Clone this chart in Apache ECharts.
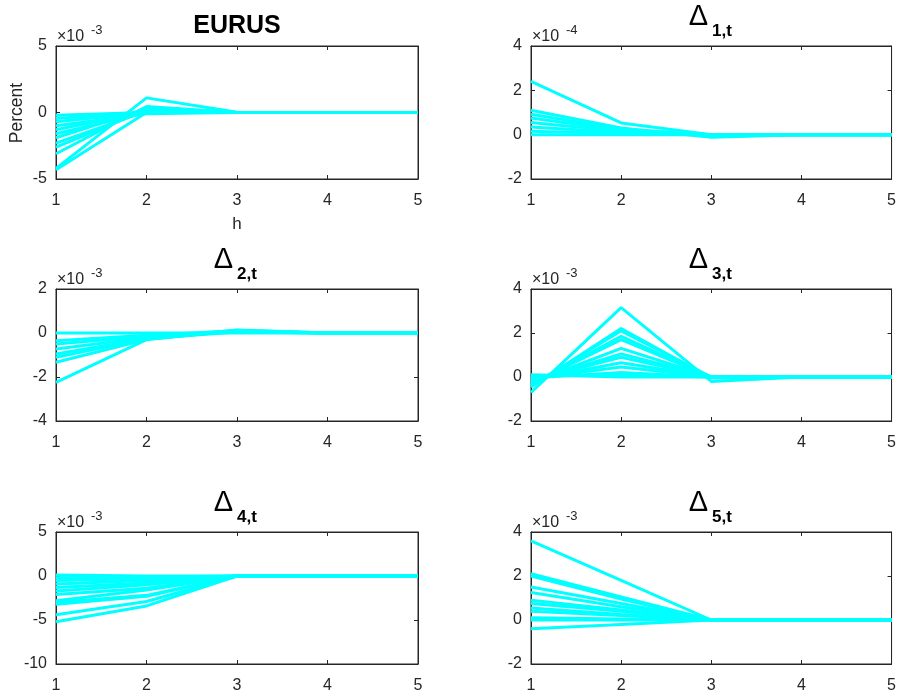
<!DOCTYPE html>
<html><head><meta charset="utf-8">
<script src="https://cdn.jsdelivr.net/npm/echarts@6/dist/echarts.min.js"></script>
<style>html,body{margin:0;padding:0;background:#fff}#c{width:899px;height:696px}</style>
</head><body><div id="c"></div>
<script>
// ---------- data ----------
const horizons = [1, 2, 3, 4, 5];
const xTickLabels = [1, 2, 3, 4, 5];

// values in units shown on each axis (×10^exp)
const eurusLines = [
  [-4.2, 1.1, 0.02, 0, 0],
  [-4.3, 0.0, 0, 0, 0],
  [-3.1, 0.45, 0, 0, 0],
  [-2.6, 0.2, 0, 0, 0],
  [-2.3, 0.1, 0, 0, 0],
  [-1.9, 0.3, 0, 0, 0],
  [-1.6, 0.0, 0, 0, 0],
  [-1.3, 0.1, 0, 0, 0],
  [-1.0, -0.1, 0, 0, 0],
  [-0.7, 0.0, 0, 0, 0],
  [-0.45, 0.05, 0, 0, 0],
  [-0.2, 0.0, 0, 0, 0]
];
const delta1Lines = [
  [2.4, 0.53, 0, 0, 0],
  [1.1, 0.3, -0.12, 0, 0],
  [0.92, 0.25, 0, 0, 0],
  [0.75, 0.2, 0, 0, 0],
  [0.55, 0.15, 0, 0, 0],
  [0.35, 0.1, 0, 0, 0],
  [0.15, 0.05, 0, 0, 0],
  [0.0, 0.0, 0, 0, 0]
];
const delta2Lines = [
  [0.0, 0.0, 0, 0, 0],
  [-0.35, -0.1, 0.1, 0, 0],
  [-0.5, -0.15, 0.05, 0, 0],
  [-0.73, -0.2, 0.12, 0, 0],
  [-0.95, -0.25, 0.08, 0, 0],
  [-1.1, -0.25, 0.05, 0, 0],
  [-1.33, -0.3, 0.1, 0, 0],
  [-2.24, -0.3, 0.14, 0, 0]
];
const delta3Lines = [
  [-0.7, 3.15, -0.2, 0, 0],
  [-0.45, 2.2, -0.05, 0, 0],
  [-0.4, 2.1, 0, 0, 0],
  [-0.35, 1.85, 0, 0, 0],
  [-0.3, 1.7, 0, 0, 0],
  [-0.25, 1.3, 0, 0, 0],
  [-0.2, 1.05, 0, 0, 0],
  [-0.15, 0.9, 0, 0, 0],
  [-0.12, 0.65, 0, 0, 0],
  [-0.08, 0.45, 0, 0, 0],
  [-0.04, 0.2, 0, 0, 0],
  [0.05, 0.1, 0, 0, 0],
  [0.1, 0.0, 0, 0, 0]
];
const delta4Lines = [
  [-5.2, -3.4, 0, 0, 0],
  [-4.4, -2.9, 0, 0, 0],
  [-3.2, -2.3, 0, 0, 0],
  [-3.0, -2.2, 0, 0, 0],
  [-2.8, -1.6, 0, 0, 0],
  [-2.1, -1.4, 0, 0, 0],
  [-1.7, -1.0, 0, 0, 0],
  [-1.3, -0.8, 0, 0, 0],
  [-0.9, -0.5, 0, 0, 0],
  [-0.5, -0.3, 0, 0, 0],
  [-0.2, -0.1, 0, 0, 0],
  [0.1, 0.0, 0, 0, 0]
];
const delta5Lines = [
  [3.6, 1.8, 0, 0, 0],
  [2.1, 1.05, 0, 0, 0],
  [2.0, 0.95, 0, 0, 0],
  [1.5, 0.75, 0, 0, 0],
  [1.25, 0.6, 0, 0, 0],
  [0.9, 0.45, 0, 0, 0],
  [0.75, 0.4, 0, 0, 0],
  [0.55, 0.25, 0, 0, 0],
  [0.4, 0.2, 0, 0, 0],
  [0.1, 0.05, 0, 0, 0],
  [0.0, 0.0, 0, 0, 0],
  [-0.4, -0.2, 0, 0, 0]
];

const panelTitles = ['EURUS', '1,t', '2,t', '3,t', '4,t', '5,t'];
const exponents = ['-3', '-4', '-3', '-3', '-3', '-3'];
const yMins = [-5, -2, -4, -2, -10, -2];
const yMaxs = [5, 4, 2, 4, 5, 4];
const yIntervals = [5, 2, 2, 2, 5, 2];
const yLabelText = 'Percent';
const xLabelText = 'h';

// ---------- layout ----------
const panelData = [eurusLines, delta1Lines, delta2Lines, delta3Lines, delta4Lines, delta5Lines];
const layout = [
  {left: 56, top: 46, width: 362, height: 133},
  {left: 531, top: 46, width: 362, height: 133},
  {left: 56, top: 289, width: 362, height: 132},
  {left: 531, top: 289, width: 362, height: 132},
  {left: 56, top: 532, width: 362, height: 132},
  {left: 531, top: 532, width: 362, height: 132}
];
const FONT = '"Liberation Sans", Arial, Helvetica, sans-serif';
const AX = '#262626';
const LINE = '#00FFFF';

const grids = [], xAxes = [], yAxes = [], series = [], graphics = [];
layout.forEach((g, i) => {
  grids.push({left: g.left, top: g.top, width: g.width, height: g.height,
    containLabel: false, show: true, borderColor: AX, borderWidth: 1, backgroundColor: '#fff'});
  const lineSt = {show: true, onZero: false, lineStyle: {color: AX, width: 1}};
  const tickSt = {show: true, inside: true, length: 4, lineStyle: {color: AX, width: 1}};
  const lab = {show: true, color: AX, fontSize: 16, fontFamily: FONT, showMinLabel: true, showMaxLabel: true};
  xAxes.push({gridIndex: i, type: 'value', position: 'bottom', min: 1, max: 5, interval: 1,
    axisLine: lineSt, axisTick: tickSt, splitLine: {show: false},
    axisLabel: Object.assign({}, lab, {margin: 14, formatter: v => String(xTickLabels[v - 1])})});
  xAxes.push({gridIndex: i, type: 'value', position: 'top', min: 1, max: 5, interval: 1,
    axisLine: lineSt, axisTick: tickSt, splitLine: {show: false}, axisLabel: {show: false}});
  yAxes.push({gridIndex: i, type: 'value', position: 'left', min: yMins[i], max: yMaxs[i], interval: yIntervals[i],
    axisLine: lineSt, axisTick: tickSt, splitLine: {show: false},
    axisLabel: Object.assign({}, lab, {margin: 9})});
  yAxes.push({gridIndex: i, type: 'value', position: 'right', min: yMins[i], max: yMaxs[i], interval: yIntervals[i],
    axisLine: lineSt, axisTick: tickSt, splitLine: {show: false}, axisLabel: {show: false}});

  panelData[i].forEach((vals, k) => {
    series.push({type: 'line', xAxisIndex: 2 * i, yAxisIndex: 2 * i,
      data: horizons.map((h, j) => [h, vals[j]]),
      showSymbol: false, symbol: 'none', silent: true,
      lineStyle: {color: LINE, width: 3}, itemStyle: {color: LINE}});
  });

  const cx = g.left + g.width / 2;
  if (i === 0) {
    graphics.push({type: 'text', x: cx, y: g.top - 20, silent: true,
      style: {text: panelTitles[i], fontSize: 25, fontWeight: 'bold', fontFamily: FONT, fill: '#000', align: 'center', verticalAlign: 'middle'}});
  } else {
    graphics.push({type: 'text', x: cx - 13.5, y: g.top - 29, silent: true,
      style: {text: 'Δ', fontSize: 29, fontFamily: FONT, fill: '#000', align: 'center', verticalAlign: 'middle'}});
    graphics.push({type: 'text', x: cx, y: g.top - 14.5, silent: true,
      style: {text: panelTitles[i], fontSize: 17, fontWeight: 'bold', fontFamily: FONT, fill: '#000', align: 'left', verticalAlign: 'middle'}});
  }
  graphics.push({type: 'text', x: g.left + 1, y: g.top - 9, silent: true,
    style: {text: '×10', fontSize: 16, fontFamily: FONT, fill: AX, align: 'left', verticalAlign: 'middle'}});
  graphics.push({type: 'text', x: g.left + 35, y: g.top - 16, silent: true,
    style: {text: exponents[i], fontSize: 13, fontFamily: FONT, fill: AX, align: 'left', verticalAlign: 'middle'}});
});
graphics.push({type: 'text', x: 17, y: 113, rotation: Math.PI / 2, silent: true,
  style: {text: yLabelText, fontSize: 17.5, fontFamily: FONT, fill: AX, align: 'center', verticalAlign: 'middle'}});
graphics.push({type: 'text', x: 237, y: 224, silent: true,
  style: {text: xLabelText, fontSize: 17, fontFamily: FONT, fill: AX, align: 'center', verticalAlign: 'middle'}});

const chart = echarts.init(document.getElementById('c'), null, {renderer: 'canvas'});
chart.setOption({
  animation: false,
  backgroundColor: '#fff',
  grid: grids, xAxis: xAxes, yAxis: yAxes, series: series, graphic: graphics
});
</script></body></html>
